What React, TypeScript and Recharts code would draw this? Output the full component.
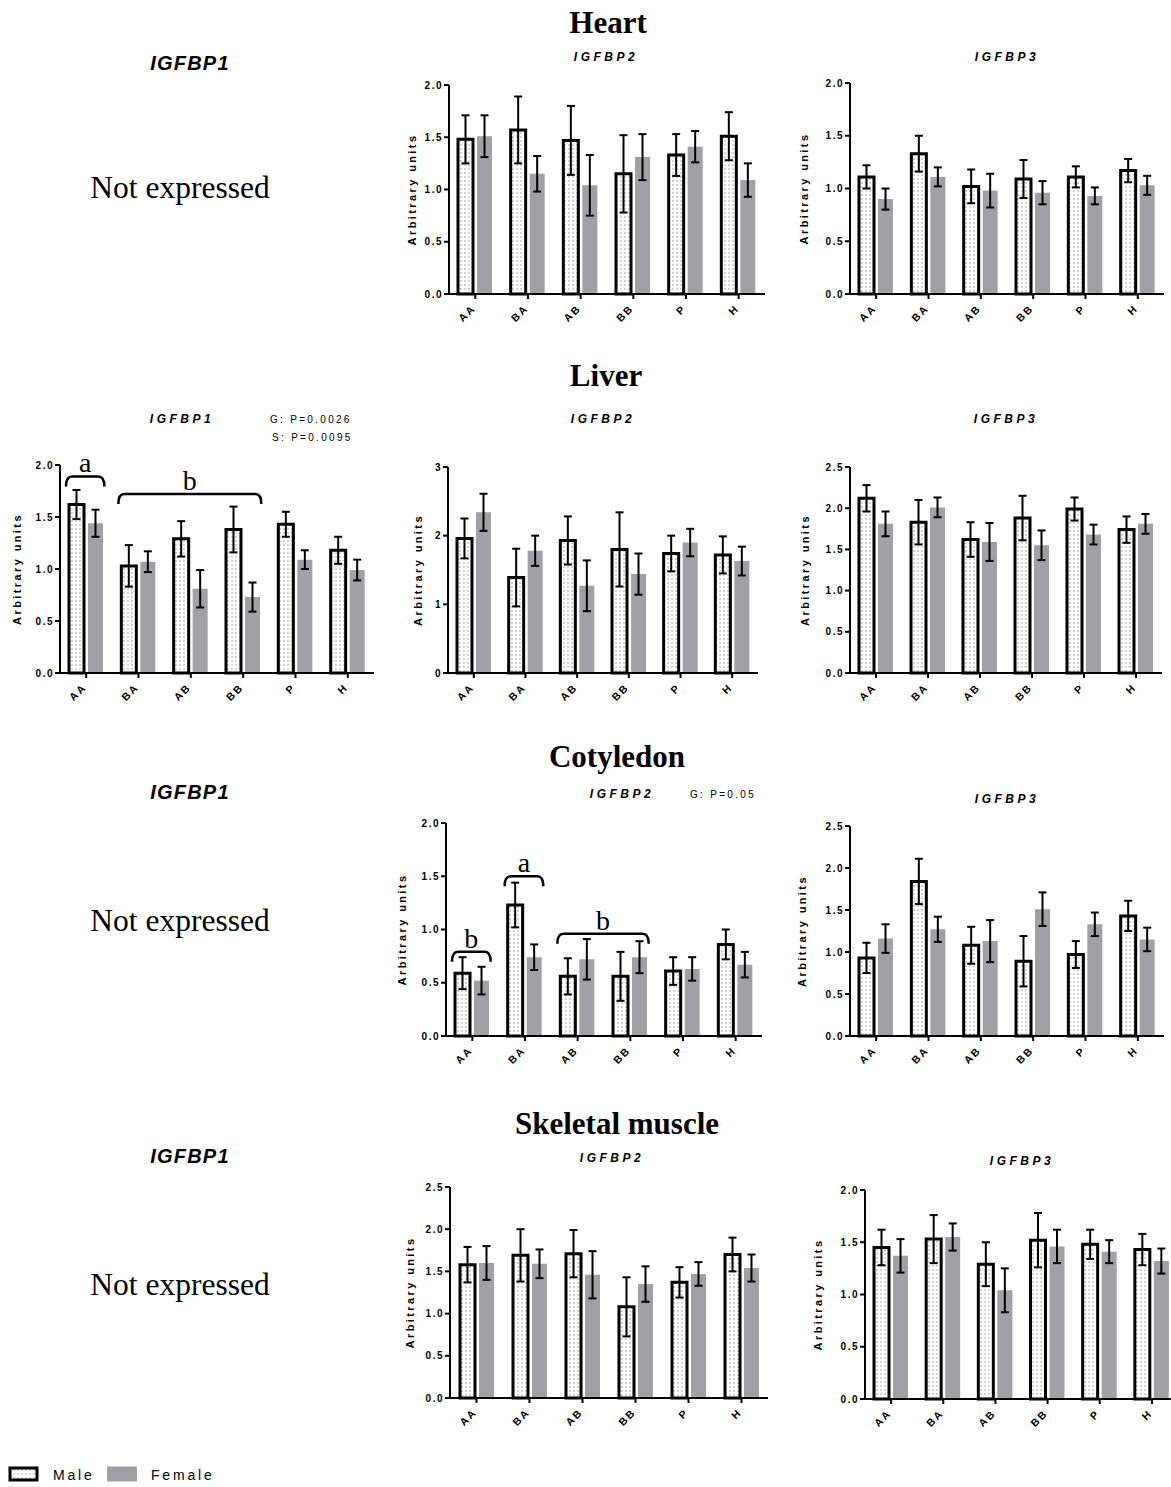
import React from "react";
import { Bar, BarChart, ErrorBar, ReferenceArea, XAxis, YAxis } from "recharts";

const SANS = '"Liberation Sans", Arial, sans-serif';
const SERIF = '"Liberation Serif", "Times New Roman", serif';
const FEMALE = "#a1a1a5";
const INK = "#000";

// genotype groups on the x axis
const genotypes = ["AA", "BA", "AB", "BB", "P", "H"];

// Heart
const heartP2Male = [1.48, 1.57, 1.47, 1.15, 1.33, 1.51];
const heartP2MaleErr = [0.23, 0.32, 0.33, 0.37, 0.2, 0.23];
const heartP2Female = [1.51, 1.15, 1.04, 1.31, 1.41, 1.09];
const heartP2FemaleErr = [0.2, 0.17, 0.29, 0.22, 0.15, 0.16];

const heartP3Male = [1.11, 1.33, 1.02, 1.09, 1.11, 1.17];
const heartP3MaleErr = [0.11, 0.17, 0.16, 0.18, 0.1, 0.11];
const heartP3Female = [0.9, 1.11, 0.98, 0.96, 0.93, 1.03];
const heartP3FemaleErr = [0.1, 0.09, 0.16, 0.11, 0.08, 0.09];

// Liver
const liverP1Male = [1.62, 1.03, 1.29, 1.38, 1.43, 1.18];
const liverP1MaleErr = [0.14, 0.2, 0.17, 0.22, 0.12, 0.13];
const liverP1Female = [1.44, 1.07, 0.81, 0.73, 1.09, 0.99];
const liverP1FemaleErr = [0.13, 0.1, 0.18, 0.14, 0.09, 0.1];

const liverP2Male = [1.96, 1.39, 1.93, 1.8, 1.74, 1.72];
const liverP2MaleErr = [0.29, 0.42, 0.35, 0.54, 0.26, 0.27];
const liverP2Female = [2.34, 1.78, 1.27, 1.44, 1.9, 1.63];
const liverP2FemaleErr = [0.27, 0.22, 0.37, 0.3, 0.2, 0.21];

const liverP3Male = [2.12, 1.83, 1.62, 1.88, 1.99, 1.74];
const liverP3MaleErr = [0.16, 0.27, 0.21, 0.27, 0.14, 0.16];
const liverP3Female = [1.81, 2.01, 1.59, 1.55, 1.68, 1.81];
const liverP3FemaleErr = [0.15, 0.12, 0.23, 0.18, 0.12, 0.12];

// Cotyledon
const cotP2Male = [0.59, 1.23, 0.56, 0.56, 0.61, 0.86];
const cotP2MaleErr = [0.15, 0.21, 0.17, 0.23, 0.13, 0.14];
const cotP2Female = [0.52, 0.74, 0.72, 0.74, 0.63, 0.67];
const cotP2FemaleErr = [0.13, 0.12, 0.19, 0.15, 0.11, 0.12];

const cotP3Male = [0.93, 1.84, 1.08, 0.89, 0.97, 1.43];
const cotP3MaleErr = [0.18, 0.27, 0.22, 0.3, 0.16, 0.18];
const cotP3Female = [1.16, 1.27, 1.13, 1.51, 1.33, 1.15];
const cotP3FemaleErr = [0.17, 0.15, 0.25, 0.2, 0.14, 0.14];

// Skeletal muscle
const musP2Male = [1.58, 1.69, 1.71, 1.08, 1.37, 1.7];
const musP2MaleErr = [0.21, 0.31, 0.28, 0.35, 0.18, 0.2];
const musP2Female = [1.6, 1.59, 1.46, 1.35, 1.47, 1.54];
const musP2FemaleErr = [0.2, 0.17, 0.28, 0.21, 0.14, 0.16];

const musP3Male = [1.45, 1.53, 1.29, 1.52, 1.48, 1.43];
const musP3MaleErr = [0.17, 0.23, 0.21, 0.26, 0.14, 0.15];
const musP3Female = [1.37, 1.55, 1.04, 1.46, 1.41, 1.32];
const musP3FemaleErr = [0.16, 0.13, 0.21, 0.16, 0.11, 0.12];

// significance groups (letter over a bracket)
type Group = { from: string; to: string; y: number; letter: string };
const liverP1Groups: Group[] = [
  { from: "AA", to: "AA", y: 1.89, letter: "a" },
  { from: "BA", to: "BB", y: 1.72, letter: "b" },
];
const cotP2Groups: Group[] = [
  { from: "AA", to: "AA", y: 0.79, letter: "b" },
  { from: "BA", to: "BA", y: 1.5, letter: "a" },
  { from: "AB", to: "BB", y: 0.96, letter: "b" },
];

const ticks2 = [0, 0.5, 1, 1.5, 2];
const ticks25 = [0, 0.5, 1, 1.5, 2, 2.5];
const ticks3 = [0, 1, 2, 3];

type Panel = {
  id: string;
  title: string;
  tx: number;
  ty: number;
  x0: number;
  x1: number;
  yTop: number;
  yBottom: number;
  max: number;
  ticks: number[];
  digits: number;
  labelDx: number;
  male: number[];
  maleErr: number[];
  female: number[];
  femaleErr: number[];
  groups?: Group[];
};

const panels: Panel[] = [
  { id: "h2", title: "IGFBP2", tx: 606, ty: 61, x0: 449, x1: 765, yTop: 85, yBottom: 294, max: 2, ticks: ticks2, digits: 1, labelDx: 37,
    male: heartP2Male, maleErr: heartP2MaleErr, female: heartP2Female, femaleErr: heartP2FemaleErr },
  { id: "h3", title: "IGFBP3", tx: 1007, ty: 61, x0: 850, x1: 1164, yTop: 83, yBottom: 294, max: 2, ticks: ticks2, digits: 1, labelDx: 46,
    male: heartP3Male, maleErr: heartP3MaleErr, female: heartP3Female, femaleErr: heartP3FemaleErr },
  { id: "l1", title: "IGFBP1", tx: 182, ty: 423, x0: 60, x1: 374, yTop: 465, yBottom: 673, max: 2, ticks: ticks2, digits: 1, labelDx: 43,
    male: liverP1Male, maleErr: liverP1MaleErr, female: liverP1Female, femaleErr: liverP1FemaleErr, groups: liverP1Groups },
  { id: "l2", title: "IGFBP2", tx: 603, ty: 423, x0: 448, x1: 758, yTop: 467, yBottom: 673, max: 3, ticks: ticks3, digits: 0, labelDx: 30,
    male: liverP2Male, maleErr: liverP2MaleErr, female: liverP2Female, femaleErr: liverP2FemaleErr },
  { id: "l3", title: "IGFBP3", tx: 1006, ty: 423, x0: 850, x1: 1162, yTop: 467, yBottom: 673, max: 2.5, ticks: ticks25, digits: 1, labelDx: 45,
    male: liverP3Male, maleErr: liverP3MaleErr, female: liverP3Female, femaleErr: liverP3FemaleErr },
  { id: "c2", title: "IGFBP2", tx: 622, ty: 798, x0: 446, x1: 762, yTop: 823, yBottom: 1036, max: 2, ticks: ticks2, digits: 1, labelDx: 44,
    male: cotP2Male, maleErr: cotP2MaleErr, female: cotP2Female, femaleErr: cotP2FemaleErr, groups: cotP2Groups },
  { id: "c3", title: "IGFBP3", tx: 1007, ty: 803, x0: 850, x1: 1164, yTop: 826, yBottom: 1036, max: 2.5, ticks: ticks25, digits: 1, labelDx: 48,
    male: cotP3Male, maleErr: cotP3MaleErr, female: cotP3Female, femaleErr: cotP3FemaleErr },
  { id: "m2", title: "IGFBP2", tx: 612, ty: 1162, x0: 450, x1: 768, yTop: 1187, yBottom: 1398, max: 2.5, ticks: ticks25, digits: 1, labelDx: 40,
    male: musP2Male, maleErr: musP2MaleErr, female: musP2Female, femaleErr: musP2FemaleErr },
  { id: "m3", title: "IGFBP3", tx: 1022, ty: 1165, x0: 865, x1: 1178, yTop: 1190, yBottom: 1399, max: 2, ticks: ticks2, digits: 1, labelDx: 47,
    male: musP3Male, maleErr: musP3MaleErr, female: musP3Female, femaleErr: musP3FemaleErr },
];

const ML = 70;
const MR = 14;
const MT = 30;
const MB = 46;

function DotPattern({ id }: { id: string }) {
  return (
    <pattern id={id} width={4} height={4} patternUnits="userSpaceOnUse">
      <rect width={4} height={4} fill="#fff" />
      <rect x={1.5} y={1.5} width={1} height={1} fill="#555" />
    </pattern>
  );
}

function XTick({ x, y, payload }: any) {
  return (
    <text
      transform={`translate(${x + 1},${y + 8}) rotate(-45)`}
      textAnchor="end"
      fontFamily={SANS}
      fontSize={10.5}
      fontWeight="bold"
      letterSpacing={2}
      fill={INK}
    >
      {payload.value}
    </text>
  );
}

function Bracket(props: any) {
  const { x, y, width, letter } = props;
  const l = x + 6;
  const r = x + width - 8;
  const d = 10;
  const rad = 6;
  return (
    <g>
      <path
        d={`M${l},${y + d} Q${l},${y} ${l + rad},${y} L${r - rad},${y} Q${r},${y} ${r},${y + d}`}
        fill="none"
        stroke={INK}
        strokeWidth={2.5}
      />
      <text x={(l + r) / 2} y={y - 4} textAnchor="middle" fontFamily={SERIF} fontSize={28} fill={INK}>
        {letter}
      </text>
    </g>
  );
}

function ExpressionChart({ p }: { p: Panel }) {
  const plotW = p.x1 - p.x0;
  const plotH = p.yBottom - p.yTop;
  const data = genotypes.map((g, i) => ({
    g,
    m: p.male[i],
    mErr: p.maleErr[i],
    f: p.female[i],
    fErr: p.femaleErr[i],
  }));
  const pid = `dots-${p.id}`;
  const lx = ML - p.labelDx;
  const ly = MT + plotH / 2;
  return (
    <div style={{ position: "absolute", left: p.x0 - ML, top: p.yTop - MT }}>
      <BarChart
        width={plotW + ML + MR}
        height={plotH + MT + MB}
        data={data}
        margin={{ top: MT, right: MR, bottom: 0, left: 0 }}
        barGap={4}
        barSize={15}
      >
        <defs>
          <DotPattern id={pid} />
        </defs>
        <XAxis
          dataKey="g"
          height={MB}
          interval={0}
          axisLine={{ stroke: INK, strokeWidth: 2 }}
          tickLine={{ stroke: INK, strokeWidth: 2 }}
          tickSize={5}
          tick={<XTick />}
        />
        <YAxis
          width={ML}
          domain={[0, p.max]}
          ticks={p.ticks}
          interval={0}
          axisLine={{ stroke: INK, strokeWidth: 2 }}
          tickLine={{ stroke: INK, strokeWidth: 2 }}
          tickSize={5}
          tickMargin={1}
          tickFormatter={(v: number) => v.toFixed(p.digits)}
          tick={{ fontFamily: SANS, fontSize: 10, fontWeight: "bold", fill: INK, letterSpacing: 1.5 }}
          label={() => (
            <text
              x={lx}
              y={ly}
              transform={`rotate(-90 ${lx} ${ly})`}
              textAnchor="middle"
              dominantBaseline="central"
              fontFamily={SANS}
              fontSize={11}
              fontWeight="bold"
              letterSpacing={2.4}
              fill={INK}
            >
              Arbitrary units
            </text>
          )}
        />
        <Bar dataKey="m" fill={`url(#${pid})`} stroke={INK} strokeWidth={3} isAnimationActive={false}>
          <ErrorBar dataKey="mErr" width={4} stroke={INK} strokeWidth={2} isAnimationActive={false} />
        </Bar>
        <Bar dataKey="f" fill={FEMALE} isAnimationActive={false}>
          <ErrorBar dataKey="fErr" width={4} stroke={INK} strokeWidth={2} isAnimationActive={false} />
        </Bar>
        {(p.groups ?? []).map((grp, i) => (
          <ReferenceArea
            key={i}
            x1={grp.from}
            x2={grp.to}
            y1={grp.y - 0.05}
            y2={grp.y}
            ifOverflow="visible"
            shape={(props: any) => <Bracket {...props} letter={grp.letter} />}
          />
        ))}
      </BarChart>
    </div>
  );
}

const sections = [
  { name: "Heart", x: 608, y: 33 },
  { name: "Liver", x: 606, y: 386 },
  { name: "Cotyledon", x: 617, y: 767 },
  { name: "Skeletal muscle", x: 617, y: 1134 },
];
const notExpressedRows = [
  { label: 70, text: 198 },
  { label: 799, text: 931 },
  { label: 1163, text: 1295 },
];

export default function App() {
  return (
    <div
      style={{
        position: "absolute",
        left: 0,
        top: 0,
        width: 1171,
        height: 1487,
        overflow: "hidden",
        background: "#fff",
      }}
    >
      <svg width={1171} height={1487} style={{ position: "absolute", left: 0, top: 0 }}>
        <defs>
          <DotPattern id="legend-dots" />
        </defs>
        {sections.map((s) => (
          <text key={s.name} x={s.x} y={s.y} textAnchor="middle" fontFamily={SERIF} fontWeight="bold" fontSize={31} fill={INK}>
            {s.name}
          </text>
        ))}
        {notExpressedRows.map((r) => (
          <g key={r.label}>
            <text x={190} y={r.label} textAnchor="middle" fontFamily={SANS} fontWeight="bold" fontStyle="italic" fontSize={20} letterSpacing={1.2} fill={INK}>
              IGFBP1
            </text>
            <text x={180} y={r.text} textAnchor="middle" fontFamily={SERIF} fontSize={31.5} fill={INK}>
              Not expressed
            </text>
          </g>
        ))}
        {panels.map((p) => (
          <text key={p.id} x={p.tx} y={p.ty} textAnchor="middle" fontFamily={SANS} fontWeight="bold" fontStyle="italic" fontSize={12} letterSpacing={3.5} fill={INK}>
            {p.title}
          </text>
        ))}
        <g fontFamily={SANS} fontSize={10} letterSpacing={2.3} fill={INK}>
          <text x={270} y={423}>G: P=0.0026</text>
          <text x={272} y={441}>S: P=0.0095</text>
          <text x={690} y={798}>G: P=0.05</text>
        </g>
        <g>
          <rect x={10} y={1468} width={27} height={12} fill="url(#legend-dots)" stroke={INK} strokeWidth={3} />
          <text x={53} y={1480} fontFamily={SANS} fontSize={14} letterSpacing={2.8} fill={INK}>
            Male
          </text>
          <rect x={107} y={1466.5} width={30} height={15} fill={FEMALE} />
          <text x={151} y={1480} fontFamily={SANS} fontSize={14} letterSpacing={2.8} fill={INK}>
            Female
          </text>
        </g>
      </svg>
      {panels.map((p) => (
        <ExpressionChart key={p.id} p={p} />
      ))}
    </div>
  );
}
